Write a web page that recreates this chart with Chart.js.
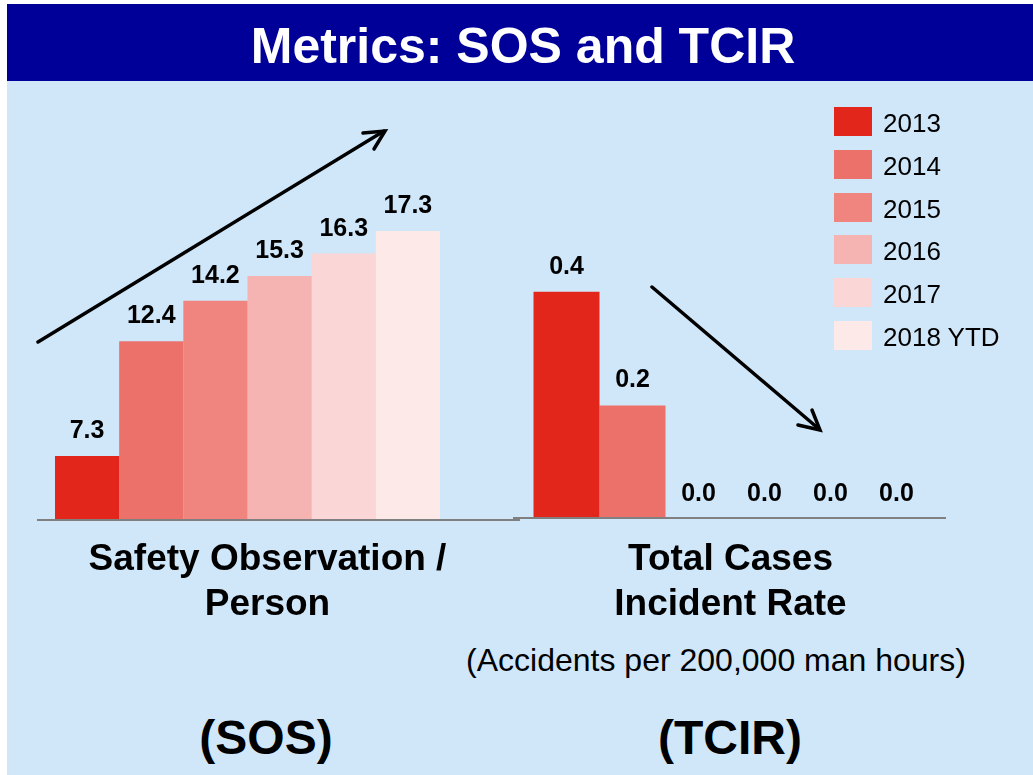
<!DOCTYPE html>
<html>
<head>
<meta charset="utf-8">
<script src="https://cdn.jsdelivr.net/npm/chart.js@4.4.0/dist/chart.umd.min.js"></script>
<style>
  html, body { margin: 0; padding: 0; background: #ffffff; }
  body { width: 1033px; height: 775px; position: relative; overflow: hidden;
         font-family: "Liberation Sans", Arial, sans-serif; }
  #slide { position: absolute; left: 7px; top: 81px; right: 0; bottom: 0; background: #d0e7f9; }
  #titlebar { position: absolute; left: 7px; top: 4px; right: 0; height: 77px; background: #000099; }
  #title { position: absolute; left: 0; right: 0; top: 17px; line-height: 50px; font-size: 50px;
           font-weight: bold; color: #fff; text-align: center; padding-left: 6px; }
  canvas { position: absolute; }
  .txt { position: absolute; text-align: center; color: #000; white-space: nowrap; }
  #legend { position: absolute; left: 834px; top: 107px; }
  .item { position: relative; height: 42.8px; }
  .sw { position: absolute; left: 0; top: 0; width: 38px; height: 29px; }
  .lb { position: absolute; left: 49px; top: 3px; font-size: 26px; line-height: 26px; color: #000; white-space: nowrap; }
  svg { position: absolute; left: 0; top: 0; pointer-events: none; }
</style>
</head>
<body>
<div id="slide"></div>
<div id="titlebar"><div id="title">Metrics: SOS and TCIR</div></div>
<canvas id="sos" width="520" height="540" style="left:0;top:81px"></canvas>
<canvas id="tcir" width="533" height="540" style="left:500px;top:81px"></canvas>
<div id="legend"></div>
<div class="txt" style="left:466px;width:500px;top:644px;font-size:32px;line-height:32px">(Accidents per 200,000 man hours)</div>
<div class="txt" style="left:116px;width:300px;top:714px;font-size:48px;line-height:48px;font-weight:bold">(SOS)</div>
<div class="txt" style="left:580px;width:300px;top:714px;font-size:48px;line-height:48px;font-weight:bold">(TCIR)</div>
<svg width="1033" height="775">
  <g stroke="#000" stroke-width="3.5" fill="none" stroke-linecap="round">
    <line x1="38" y1="342" x2="384" y2="131"/>
    <polyline points="363,133 385,131 374,149"/>
    <line x1="652" y1="287" x2="819" y2="429"/>
    <polyline points="798,425 820,430 812,410"/>
  </g>
</svg>
<script>
const years = ['2013', '2014', '2015', '2016', '2017', '2018 YTD']
const colors = ['#e2261c', '#ed716b', '#ef857e', '#f5b4b1', '#fad6d6', '#fce9e8']
const sosValues = [7.3, 12.4, 14.2, 15.3, 16.3, 17.3]
const tcirValues = [0.4, 0.2, 0.0, 0.0, 0.0, 0.0]
const sosCategory = ['Safety Observation /', 'Person']
const tcirCategory = ['Total Cases', 'Incident Rate']

const FONT = '"Liberation Sans", Arial, sans-serif'

// value labels above each bar
const valueLabels = {
  id: 'valueLabels',
  afterDatasetsDraw (chart) {
    const ctx = chart.ctx
    ctx.save()
    ctx.font = 'bold 25px ' + FONT
    ctx.fillStyle = '#000'
    ctx.textAlign = 'center'
    ctx.textBaseline = 'alphabetic'
    chart.data.datasets.forEach((ds, i) => {
      chart.getDatasetMeta(i).data.forEach((bar, j) => {
        ctx.fillText(ds.data[j].toFixed(1), bar.x, bar.y - 18)
      })
    })
    ctx.restore()
  }
}

// grey base line, can run past the chart area
const baseLine = {
  id: 'baseLine',
  afterDatasetsDraw (chart, args, opts) {
    const a = chart.chartArea
    const ctx = chart.ctx
    ctx.save()
    ctx.strokeStyle = '#808080'
    ctx.lineWidth = 2
    ctx.beginPath()
    ctx.moveTo(a.left + opts.shift, a.bottom + opts.dy)
    ctx.lineTo(a.right + opts.shift + opts.extend, a.bottom + opts.dy)
    ctx.stroke()
    ctx.restore()
  }
}

function make_chart (id, category, values, yMin, yMax, padding, labelOffset, extend, shift, dy) {
  return new Chart(document.getElementById(id), {
    type: 'bar',
    data: {
      labels: [category],
      datasets: years.map((y, i) => ({
        label: y,
        data: [values[i]],
        backgroundColor: colors[i],
        borderWidth: 0
      }))
    },
    options: {
      responsive: false,
      animation: false,
      datasets: { bar: { categoryPercentage: 0.9145, barPercentage: 1 } },
      layout: { padding },
      plugins: {
        legend: { display: false },
        tooltip: { enabled: false },
        baseLine: { extend, shift, dy }
      },
      scales: {
        x: {
          grid: { display: false, drawTicks: false },
          border: { display: false },
          afterFit: (scale) => { scale.height = 100 },
          ticks: {
            color: '#000',
            padding: 18,
            labelOffset,
            maxRotation: 0,
            autoSkip: false,
            font: { family: FONT, size: 37, weight: 'bold', lineHeight: 1.22 }
          }
        },
        y: { display: false, min: yMin, max: yMax }
      }
    },
    plugins: [valueLabels, baseLine]
  })
}

make_chart('sos', sosCategory, sosValues, 4.5, 20.5, { left: 37, right: 62, top: 78, bottom: 2 }, 20, 62, 0, 1)
make_chart('tcir', tcirCategory, tcirValues, 0, 0.634, { left: 15, right: 85, top: 78, bottom: 2 }, -1, 0, -2, -1)

// legend
const legend = document.getElementById('legend')
years.forEach((y, i) => {
  const item = document.createElement('div')
  item.className = 'item'
  item.innerHTML = '<div class="sw" style="background:' + colors[i] + '"></div><div class="lb">' + y + '</div>'
  legend.appendChild(item)
})
</script>
</body>
</html>
